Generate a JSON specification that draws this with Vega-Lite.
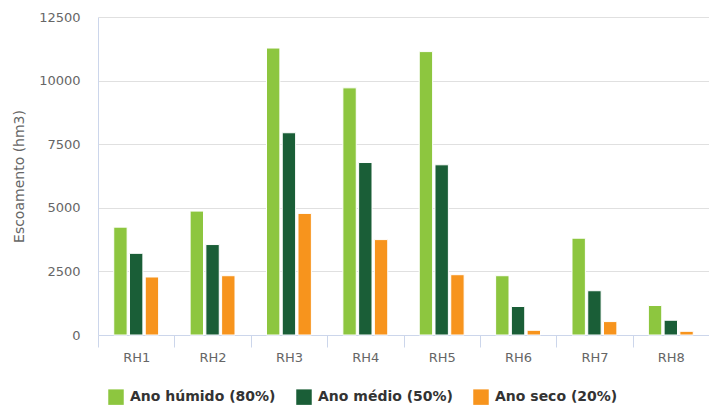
{
  "$schema": "https://vega.github.io/schema/vega-lite/v6.json",
  "width": 611,
  "height": 318,
  "autosize": "none",
  "padding": {"left": 98, "top": 17, "right": 0, "bottom": 75},
  "background": "white",
  "config": {
    "view": {"stroke": null},
    "font": "DejaVu Sans"
  },
  "data": {
    "values": [
      {"rh": "RH1", "serie": "Ano húmido (80%)", "valor": 4240},
      {"rh": "RH1", "serie": "Ano médio (50%)", "valor": 3210},
      {"rh": "RH1", "serie": "Ano seco (20%)", "valor": 2280},
      {"rh": "RH2", "serie": "Ano húmido (80%)", "valor": 4870},
      {"rh": "RH2", "serie": "Ano médio (50%)", "valor": 3555},
      {"rh": "RH2", "serie": "Ano seco (20%)", "valor": 2330},
      {"rh": "RH3", "serie": "Ano húmido (80%)", "valor": 11280},
      {"rh": "RH3", "serie": "Ano médio (50%)", "valor": 7950},
      {"rh": "RH3", "serie": "Ano seco (20%)", "valor": 4780},
      {"rh": "RH4", "serie": "Ano húmido (80%)", "valor": 9715},
      {"rh": "RH4", "serie": "Ano médio (50%)", "valor": 6780},
      {"rh": "RH4", "serie": "Ano seco (20%)", "valor": 3750},
      {"rh": "RH5", "serie": "Ano húmido (80%)", "valor": 11140},
      {"rh": "RH5", "serie": "Ano médio (50%)", "valor": 6690},
      {"rh": "RH5", "serie": "Ano seco (20%)", "valor": 2370},
      {"rh": "RH6", "serie": "Ano húmido (80%)", "valor": 2330},
      {"rh": "RH6", "serie": "Ano médio (50%)", "valor": 1120},
      {"rh": "RH6", "serie": "Ano seco (20%)", "valor": 185},
      {"rh": "RH7", "serie": "Ano húmido (80%)", "valor": 3805},
      {"rh": "RH7", "serie": "Ano médio (50%)", "valor": 1740},
      {"rh": "RH7", "serie": "Ano seco (20%)", "valor": 527},
      {"rh": "RH8", "serie": "Ano húmido (80%)", "valor": 1160},
      {"rh": "RH8", "serie": "Ano médio (50%)", "valor": 580},
      {"rh": "RH8", "serie": "Ano seco (20%)", "valor": 145}
    ]
  },
  "mark": {"type": "bar", "stroke": "white", "strokeWidth": 1},
  "encoding": {
    "x": {
      "field": "rh",
      "type": "nominal",
      "sort": null,
      "title": null,
      "scale": {"paddingInner": 0, "paddingOuter": 0},
      "axis": {
        "labelAngle": 0,
        "tickBand": "extent",
        "tickSize": 12,
        "tickColor": "#ccd6eb",
        "domainColor": "#ccd6eb",
        "labelColor": "#666666",
        "labelFontSize": 13,
        "labelPadding": 4,
        "grid": false
      }
    },
    "xOffset": {
      "field": "serie",
      "type": "nominal",
      "scale": {"paddingInner": 0.15, "paddingOuter": 1.15}
    },
    "y": {
      "field": "valor",
      "type": "quantitative",
      "title": "Escoamento (hm3)",
      "scale": {"domain": [0, 12500], "nice": false},
      "axis": {
        "values": [0, 2500, 5000, 7500, 10000, 12500],
        "format": "d",
        "grid": true,
        "gridColor": "#e0e0e0",
        "domain": true,
        "domainColor": "#ccd6eb",
        "ticks": false,
        "labelColor": "#666666",
        "labelFontSize": 13,
        "labelPadding": 18,
        "titleColor": "#666666",
        "titleFontSize": 14,
        "titleFontWeight": "normal",
        "titlePadding": 12
      }
    },
    "color": {
      "field": "serie",
      "type": "nominal",
      "title": null,
      "scale": {
        "domain": ["Ano húmido (80%)", "Ano médio (50%)", "Ano seco (20%)"],
        "range": ["#8dc63f", "#1a5e37", "#f7941d"]
      },
      "legend": {
        "orient": "none",
        "legendX": 10,
        "legendY": 372,
        "direction": "horizontal",
        "symbolType": "square",
        "symbolSize": 240,
        "symbolStrokeWidth": 0,
        "labelFontSize": 14,
        "labelFontWeight": "bold",
        "labelColor": "#333333",
        "labelOffset": 6,
        "columnPadding": 20,
        "labelLimit": 300
      }
    }
  }
}
